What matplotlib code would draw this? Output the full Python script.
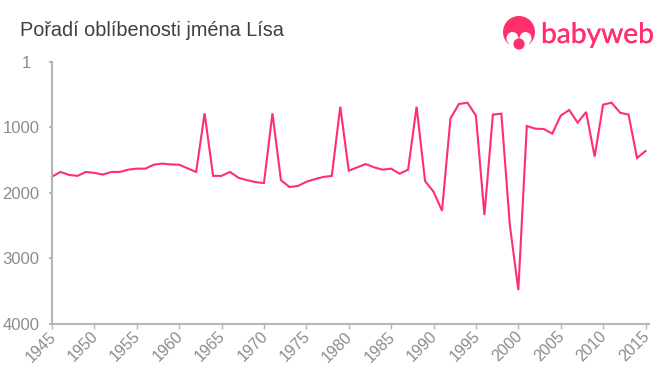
import numpy as np
import matplotlib
matplotlib.use('Agg')
import matplotlib.pyplot as plt
import matplotlib.patheffects as pe
from matplotlib.patches import Circle, Ellipse
from matplotlib.transforms import ScaledTranslation

plt.rcParams['font.family'] = ['Liberation Sans', 'DejaVu Sans']

W = 660
H = 375
PINK = '#ff2e6c'
GREY = '#8c8c8c'
AXIS = '#b5b5b5'

years = list(range(1945, 2016))
ranks = [1757, 1685, 1730, 1745, 1685, 1700, 1725, 1685, 1685, 1650,
         1635, 1635, 1575, 1558, 1570, 1575, 1630, 1685, 790, 1745,
         1745, 1685, 1775, 1810, 1840, 1855, 790, 1810, 1915, 1900,
         1835, 1795, 1762, 1745, 688, 1666, 1615, 1564, 1615, 1650,
         1635, 1712, 1650, 688, 1824, 1987, 2277, 866, 647, 627,
         825, 2344, 810, 795, 2497, 3490, 983, 1024, 1029, 1100,
         825, 739, 932, 769, 1450, 657, 627, 780, 810, 1472,
         1365]
x_ticks = list(range(1945, 2016, 5))
y_ticks = [1, 1000, 2000, 3000, 4000]
title = 'Pořadí oblíbenosti jména Lísa'

fig = plt.figure(figsize=(W / 100, H / 100), dpi=100)

# axes box in pixels, measured on the reference
left, right, top, bottom = 52, 649, 61.7, 323.5
ax = fig.add_axes([left / W, 1 - bottom / H, (right - left) / W, (bottom - top) / H])

ax.plot(years, ranks, color=PINK, lw=1.5, solid_joinstyle='miter', clip_on=False)

ax.set_xlim(1945, 1945 + 70 * (right - left) / 593.5)
ax.set_ylim(4000, 1)
ax.set_xticks(x_ticks)
ax.set_yticks(y_ticks)
ax.tick_params(axis='x', length=3.6, width=1, color=AXIS, labelcolor=GREY, labelsize=11.5, pad=1)
ax.tick_params(axis='y', length=2.5, width=1.4, color=AXIS, labelcolor=GREY, labelsize=12, pad=6.5)

# x labels sit a little left of their ticks
shift_x = ScaledTranslation(-4 / 100, 1 / 100, fig.dpi_scale_trans)
for lab in ax.get_xticklabels():
    lab.set_rotation(45)
    lab.set_ha('right')
    lab.set_va('top')
    lab.set_rotation_mode('anchor')
    lab.set_transform(lab.get_transform() + shift_x)

# the "1" stands further left than the other labels
shift_one = ScaledTranslation(-8 / 100, 0, fig.dpi_scale_trans)
one = ax.get_yticklabels()[0]
one.set_transform(one.get_transform() + shift_one)

for s in ['top', 'right']:
    ax.spines[s].set_visible(False)
for s in ['left', 'bottom']:
    ax.spines[s].set_color(AXIS)
    ax.spines[s].set_linewidth(1.5)

fig.text(20 / W, 1 - 36.5 / H, title, fontsize=14.3, color='#404040', ha='left', va='baseline')

# logo, drawn on a full figure overlay in pixel coordinates
logo = fig.add_axes([0, 0, 1, 1])
logo.set_xlim(0, W)
logo.set_ylim(H, 0)
logo.axis('off')
logo.add_patch(Circle((519, 32), 16, color=PINK, lw=0))
logo.add_patch(Ellipse((512.5, 38.5), 12, 13, color='white', lw=0))
logo.add_patch(Ellipse((525.5, 38.5), 12, 13, color='white', lw=0))
logo.add_patch(Ellipse((519, 46), 22, 11, color='white', lw=0))
logo.add_patch(Circle((519, 44), 5.6, color=PINK, lw=0))
logo.text(541, 43, 'babyweb', fontsize=20.3, color=PINK, family='Lato', ha='left', va='baseline',
          path_effects=[pe.withStroke(linewidth=0.2, foreground=PINK)])

fig.savefig('out.png', dpi=100)
